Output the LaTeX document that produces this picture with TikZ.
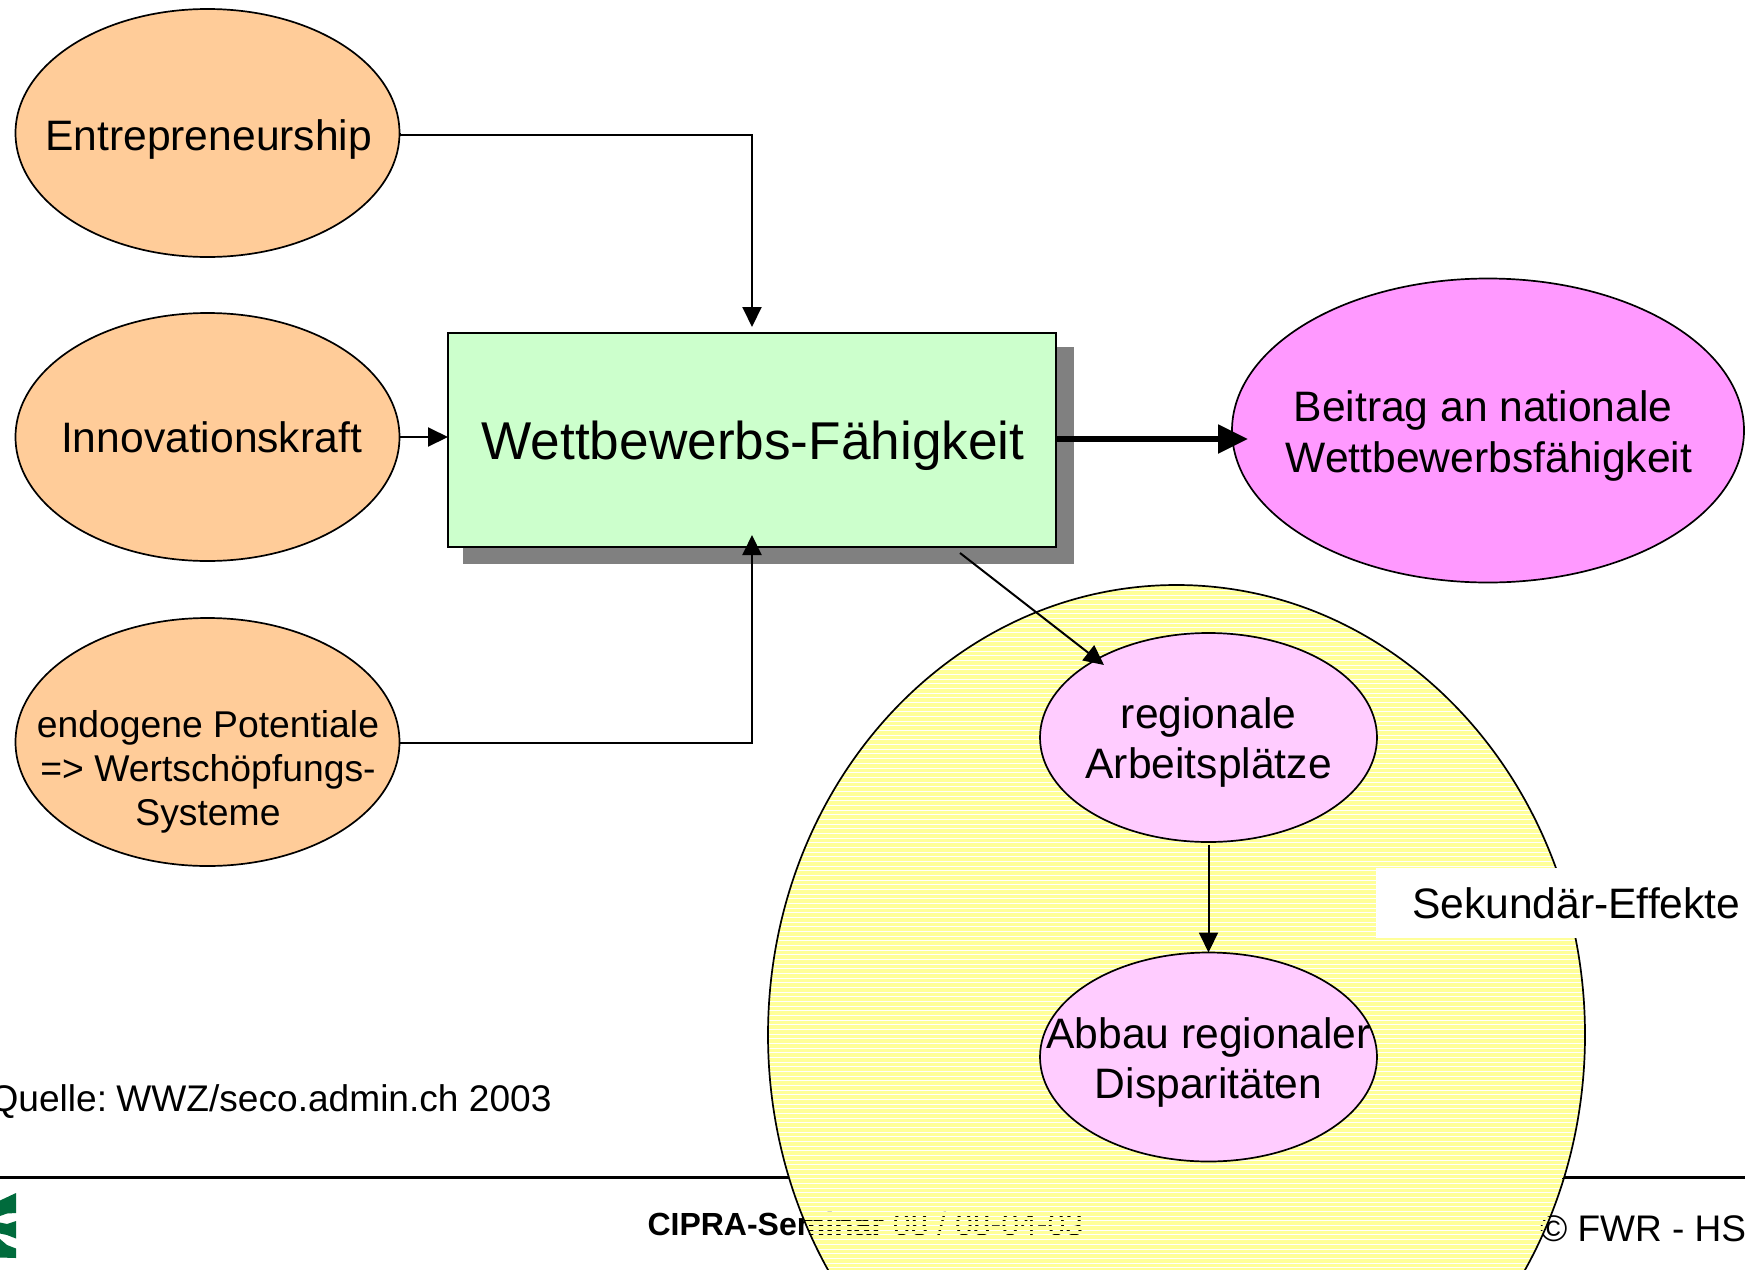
\documentclass[tikz,border=0pt]{standalone}
\usepackage{fontspec}
\setmainfont{Liberation Sans}
\usetikzlibrary{shapes.geometric,arrows.meta}
\tikzset{
  px/.style={x=0.5pt,y=-0.5pt},
  oval/.style={draw=black,line width=0.85pt,shape=ellipse,inner sep=0pt,outer sep=0pt},
  orangeoval/.style={oval,fill=orangefill,minimum width=192pt,minimum height=124pt},
  pinkoval/.style={oval,fill=pinkfill,minimum width=168.5pt,minimum height=104.5pt},
  txt/.style={anchor=base,align=center,inner sep=0pt,outer sep=0pt,text=black},
  big/.style={txt,font=\fontsize{21.3}{25.2}\selectfont},
  mid/.style={txt,font=\fontsize{18.65}{22}\selectfont},
  conn/.style={draw=black,line width=1pt,-{Triangle[length=10pt,width=9.5pt]}},
  boldconn/.style={draw=black,line width=2.6pt,-{Triangle[length=15pt,width=14pt]}},
  rulebar/.style={draw=black,line width=1.5pt},
}
\definecolor{orangefill}{HTML}{FFCC99}
\definecolor{greenfill}{HTML}{CCFFCC}
\definecolor{magentafill}{HTML}{FF99FF}
\definecolor{pinkfill}{HTML}{FFCCFF}
\definecolor{yellowfill}{HTML}{FFFF99}
\definecolor{shadowgrey}{HTML}{808080}
\definecolor{logogreen}{HTML}{006B3C}
\begin{document}
\begin{tikzpicture}[px]
\useasboundingbox (0,0) rectangle (1745,1269);
\fill[white] (0,0) rectangle (1745,1269);

% footer, beneath the striped ellipse
\node[txt,anchor=base west,font=\fontsize{16}{19}\selectfont] (footer) at (647.5,1235) {\textbf{CIPRA-Seminar} 08 / 08-04-03};
\node[txt,anchor=base west,font=\fontsize{18.5}{22}\selectfont] (copyright) at (1540,1241.5) {© FWR - HS};
\coordinate (ruleA) at (0,1177); \coordinate (ruleB) at (789,1177);
\coordinate (ruleC) at (1562,1177); \coordinate (ruleD) at (1745,1177);
\draw[rulebar] (ruleA) -- (ruleB);
\draw[rulebar] (ruleC) -- (ruleD);

% logo
\fill[logogreen] (0,1200.5) -- (16,1193) -- (16,1213) -- (7,1213.5) -- (0,1216) -- cycle;
\fill[logogreen] (0,1222.5) -- (7,1224) -- (16,1221) -- (16,1238.5) -- (7,1235) -- (0,1233.5) -- cycle;
\fill[logogreen] (0,1239) -- (7,1245) -- (16,1248.5) -- (16,1258) -- (0,1257.5) -- cycle;

% striped ellipse: one-pixel gaps, snapped to the pixel grid
\begin{scope}
\clip (1176.5,1035) ellipse [x radius=408.5,y radius=450];
\foreach \i in {-100,...,60}{
  \pgfmathsetmacro{\ya}{round(4.67*\i)+1002}
  \pgfmathsetmacro{\yb}{round(4.67*(\i+1))+1001}
  \fill[yellowfill] (760,\ya) rectangle (1590,\yb);
}
\end{scope}
\node[draw=black,line width=0.85pt,shape=ellipse,inner sep=0pt,minimum width=408.5pt,minimum height=450pt] (secondary) at (1176.5,1035) {};

% left ovals
\node[orangeoval] (entre) at (207.5,133) {};
\node[orangeoval] (innov) at (207.5,437) {};
\node[orangeoval] (endo) at (207.5,742) {};
\node[big] (entreT) at (208.7,150) {Entrepreneurship};
\node[big] (innovT) at (211.5,452) {Innovationskraft};
\node[mid] (endoT) at (208,825) {endogene Potentiale\\=> Wertschöpfungs-\\Systeme};

% central box
\fill[shadowgrey] (463,347) rectangle (1074,564);
\node[draw=black,line width=1pt,fill=greenfill,minimum width=304pt,minimum height=106.75pt,inner sep=0pt,outer sep=0pt] (box) at (752,439.75) {};
\node[txt,font=\fontsize{26.6}{31}\selectfont] (boxT) at (753,459) {Wettbewerbs-Fähigkeit};

% right ovals
\node[oval,fill=magentafill,minimum width=256pt,minimum height=152pt] (beitrag) at (1488,430.5) {};
\node[big] (beitragT) at (1489,472) {Beitrag an nationale\hspace*{5.9pt}\\Wettbewerbsfähigkeit};
\node[pinkoval] (jobs) at (1208.5,737.5) {};
\node[big] (jobsT) at (1208.6,778.5) {regionale\\Arbeitsplätze};
\node[pinkoval] (abbau) at (1208.5,1057) {};
\node[big] (abbauT) at (1208.6,1098.5) {Abbau regionaler\\Disparitäten};

% label
\fill[white] (1376,867.5) rectangle (1745,937.5);
\node[big,anchor=base west] (sekT) at (1412,918) {Sekundär-Effekte};
\node[txt,anchor=base east,font=\fontsize{18.55}{22}\selectfont] (quelle) at (551.5,1111) {Quelle: \kern-2.2pt WWZ/seco.admin.ch 2003};

% connectors
\coordinate (topTip) at (752,327);
\coordinate (botTip) at (752,535);
\coordinate (boldEnd) at (1248,439);
\coordinate (boldStart) at (1056,439);
\coordinate (diagStart) at (960,553);
\coordinate (diagEnd) at (1104,665);
\coordinate (jobsOut) at (1208.5,844.5);
\draw[conn] (entre.east) -- ++(0,1.5) -| (topTip);
\draw[conn] (innov.east) -- (box.west |- innov.east);
\draw[conn] (endo.east) -- ++(0,1) -| (botTip);
\draw[boldconn] (boldStart) -- (boldEnd);
\draw[conn] (diagStart) -- (diagEnd);
\draw[conn] (jobsOut) -- (abbau.north);
\end{tikzpicture}
\end{document}
